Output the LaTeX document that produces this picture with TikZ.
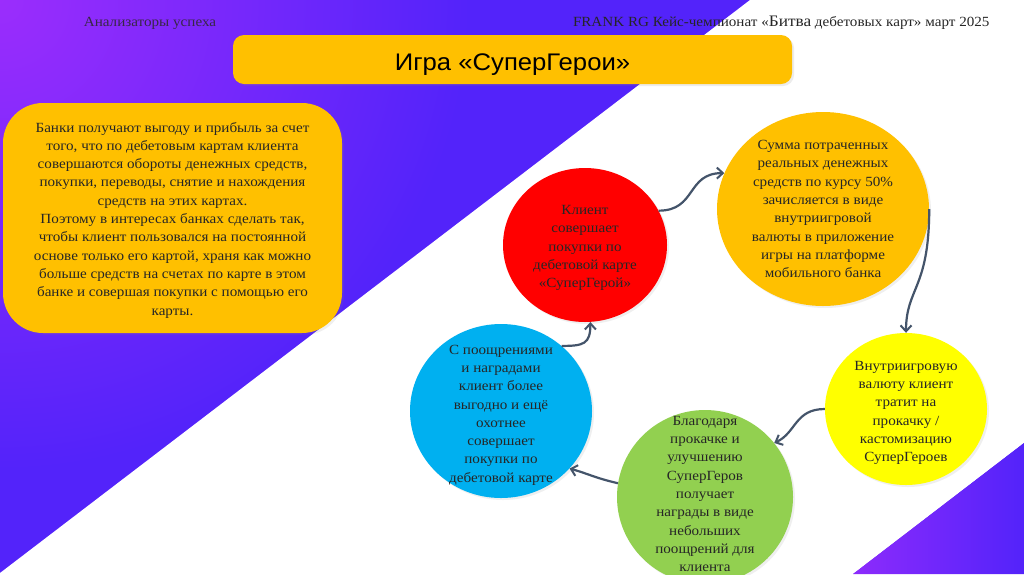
\documentclass[tikz,border=0pt]{standalone}
\usepackage{fontspec}
\setmainfont{Liberation Serif}[FakeStretch=1.08]
\newfontfamily\titlefont{Liberation Sans}[FakeStretch=1.07]
\usetikzlibrary{shapes.geometric,arrows.meta,calc,shadows}

\definecolor{amber}{HTML}{FFC000}
\definecolor{heroRed}{HTML}{FF0000}
\definecolor{heroYellow}{HTML}{FFFF00}
\definecolor{heroGreen}{HTML}{92D050}
\definecolor{heroBlue}{HTML}{00B0F0}
\definecolor{arrowGray}{HTML}{44546A}
\definecolor{bgViolet}{HTML}{9B2DFC}
\definecolor{bgBlue}{HTML}{5323FA}
\definecolor{inkDark}{HTML}{262626}

\tikzset{
  bubble/.style={ellipse, inner sep=0pt,
    drop shadow={opacity=0.12, shadow xshift=2pt, shadow yshift=-2pt}},
  bubbletext/.style={align=center, text=inkDark,
    font=\fontsize{14}{18.3}\selectfont},
  loop/.style={draw=arrowGray, line width=2.2pt,
    -{Straight Barb[length=6pt,width=11pt,line width=2pt]}}
}

\begin{document}
\begin{tikzpicture}[x=1pt, y=1pt]
    \useasboundingbox (0,0) rectangle (1024,-574);
    % Background gradient and white diagonal band
    \fill[bgBlue] (0,0) rectangle (1024,-574);
    \begin{scope}
      \clip (0,0) rectangle (1024,-574);
      \shade[inner color=bgViolet, outer color=bgBlue] (0,0) circle (470);
    \end{scope}
    \fill[white] (750,0) -- (1024,0) -- (1024,-443) -- (853,-574) -- (0,-574) -- (0,-573) -- cycle;
    \shade[left color=bgViolet!80!bgBlue, right color=bgBlue] (1024,-443) -- (1024,-574) -- (853,-574) -- cycle;
    % Header line
    \node[text=inkDark!85!bgViolet, font=\fontsize{14}{15}\selectfont] (team) at (150,-23) {Анализаторы успеха};
    \node[text=inkDark, font=\fontsize{14}{15}\selectfont, anchor=east] (champ) at (993,-23)
      {FRANK RG Кейс-чемпионат «{\fontsize{16}{15}\selectfont Битва} дебетовых карт» март 2025};
    % Title bar
    \node[fill=amber, rounded corners=11pt, minimum width=559pt, minimum height=49pt,
          text height=22pt, text depth=1pt,
          drop shadow={opacity=0.15, shadow xshift=2pt, shadow yshift=-2pt},
          font=\titlefont\fontsize{24}{26}\selectfont] (title) at (512.5,-59.5) {Игра «СуперГерои»};
    % Explanation box
    \node[fill=amber, rounded corners=40pt, minimum width=339pt, minimum height=230pt,
          drop shadow={opacity=0.12, shadow xshift=2pt, shadow yshift=-2pt}] (bankbox) at (172.5,-218) {};
    \node[bubbletext] (banktext) at ($(bankbox.center)+(0,-2)$) {Банки получают выгоду и прибыль за счет\\
      того, что по дебетовым картам клиента\\
      совершаются обороты денежных средств,\\
      покупки, переводы, снятие и нахождения\\
      средств на этих картах.\\
      Поэтому в интересах банках сделать так,\\
      чтобы клиент пользовался на постоянной\\
      основе только его картой, храня как можно\\
      больше средств на счетах по карте в этом\\
      банке и совершая покупки с помощью его\\
      карты.};
    % Cycle bubbles
    \node[bubble, fill=heroRed, minimum width=164pt, minimum height=154pt] (buy) at (585,-245) {};
    \node[bubble, fill=amber, minimum width=212pt, minimum height=194pt] (coins) at (823,-209) {};
    \node[bubble, fill=heroYellow, minimum width=162pt, minimum height=152pt] (spend) at (906,-409) {};
    \node[bubble, fill=heroGreen, minimum width=176pt, minimum height=174pt] (reward) at (705,-497) {};
    \node[bubble, fill=heroBlue, minimum width=182pt, minimum height=174pt] (again) at (501,-411) {};
    \node[bubbletext] at ($(buy.center)+(0,-3)$) {Клиент\\ совершает\\ покупки по\\ дебетовой карте\\ «СуперГерой»};
    \node[bubbletext] at (coins.center) {Сумма потраченных\\ реальных денежных\\ средств по курсу 50\%\\
      зачисляется в виде\\ внутриигровой\\ валюты в приложение\\ игры на платформе\\ мобильного банка};
    \node[bubbletext] at ($(spend.center)+(0,-4)$) {Внутриигровую\\ валюту клиент\\ тратит на\\ прокачку /\\
      кастомизацию\\ СуперГероев};
    \node[bubbletext] at ($(reward.center)+(0,3)$) {Благодаря\\ прокачке и\\ улучшению\\ СуперГеров\\ получает\\
      награды в виде\\ небольших\\ поощрений для\\ клиента};
    \node[bubbletext] at ($(again.center)+(0,-4)$) {С поощрениями\\ и наградами\\ клиент более\\ выгодно и ещё\\
      охотнее\\ совершает\\ покупки по\\ дебетовой карте};
    % Curved connectors
    \draw[loop] (buy.25) .. controls ($(buy.25)+(38,0)$) and ($(coins.160)+(-38,0)$) .. (coins.160);
    \draw[loop] (coins.0) .. controls ($(coins.0)+(0,-80)$) and ($(spend.north)+(0,45)$) .. (spend.north);
    \draw[loop] (spend.180) .. controls ($(spend.180)+(-30,0)$) and ($(reward.38)+(22,10)$) .. (reward.38);
    \draw[loop] (reward.171) .. controls ($(reward.171)+(-22,5)$) and ($(again.-40)+(18,-5)$) .. (again.-40);
    \draw[loop] (again.47) .. controls ($(again.47)+(22,0)$) and ($(buy.-86)+(0,-22)$) .. (buy.-86);
\end{tikzpicture}
\end{document}
